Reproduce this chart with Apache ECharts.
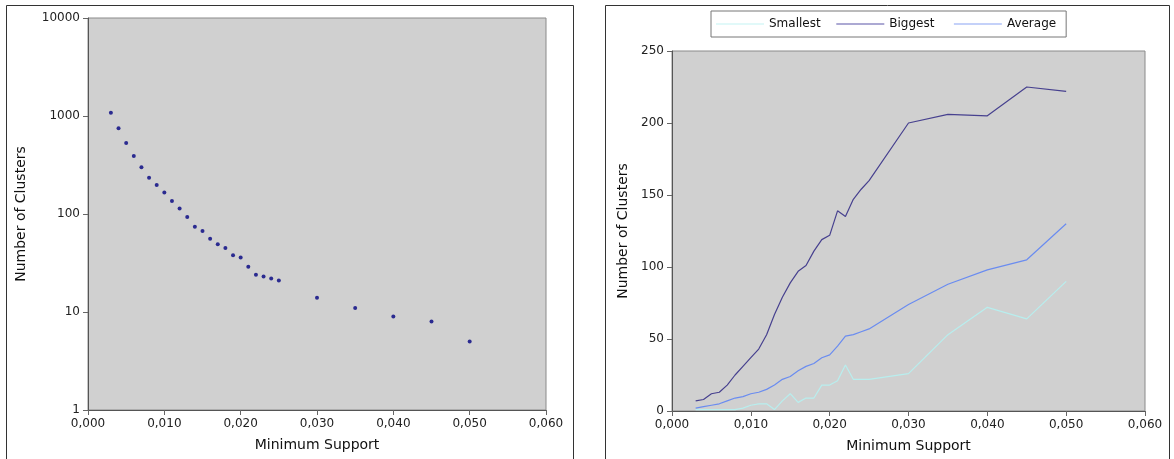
<!DOCTYPE html>
<html>
<head>
<meta charset="utf-8">
<script src="https://cdn.jsdelivr.net/npm/echarts@6/dist/echarts.min.js"></script>
<style>
  html, body { margin: 0; padding: 0; background: #ffffff; }
  #chart { width: 1174px; height: 459px; }
</style>
</head>
<body>
<div id="chart"></div>
<script>
// Minimum support thresholds (shared x values of both panels)
const support = [0.003, 0.004, 0.005, 0.006, 0.007, 0.008, 0.009, 0.010, 0.011, 0.012,
                 0.013, 0.014, 0.015, 0.016, 0.017, 0.018, 0.019, 0.020, 0.021, 0.022,
                 0.023, 0.024, 0.025, 0.030, 0.035, 0.040, 0.045, 0.050];

// Left panel: number of clusters found at each threshold (log scale)
const clusterCount = [1080, 750, 530, 390, 300, 235, 198, 166, 136, 114,
                      93, 74, 67, 56, 49, 45, 38, 36, 29, 24,
                      23, 22, 21, 14, 11, 9, 8, 5];

// Right panel: cluster sizes
const smallest = [1, 1, 1, 1, 1, 1, 2, 4, 5, 5,
                  1, 7, 12, 6, 9, 9, 18, 18, 21, 32,
                  22, 22, 22, 26, 53, 72, 64, 90];
const biggest  = [7, 8, 12, 13, 18, 25, 31, 37, 43, 53,
                  67, 79, 89, 97, 101, 111, 119, 122, 139, 135,
                  147, 154, 160, 200, 206, 205, 225, 222];
const average  = [2, 3, 4, 5, 7, 9, 10, 12, 13, 15,
                  18, 22, 24, 28, 31, 33, 37, 39, 45, 52,
                  53, 55, 57, 74, 88, 98, 105, 130];

const seriesNames = ['Smallest', 'Biggest', 'Average'];
const xAxisTitle = 'Minimum Support';
const yAxisTitle = 'Number of Clusters';

const pairs = (ys) => support.map((x, i) => [x, ys[i]]);
const FONT = 'DejaVu Sans';
const labelStyle = { color: '#222', fontFamily: FONT, fontSize: 12 };
const nameStyle = { color: '#111', fontFamily: FONT, fontSize: 14 };

// trailing spaces after each legend label so the entries sit in even cells
const legendPad = { Smallest: '  ', Biggest: '   ', Average: '' };

function supportAxis(gridIndex) {
  return {
    type: 'value', gridIndex, min: 0, max: 0.06, interval: 0.01,
    name: xAxisTitle, nameLocation: 'middle', nameGap: 28, nameTextStyle: nameStyle,
    axisLine: { show: true, lineStyle: { color: '#555', width: 1 } },
    axisTick: { show: true, length: 5, lineStyle: { color: '#666' } },
    axisLabel: Object.assign({ margin: 8, formatter: v => v.toFixed(3).replace('.', ',') }, labelStyle),
    splitLine: { show: false }
  };
}

const chart = echarts.init(document.getElementById('chart'), null, { renderer: 'canvas' });

chart.setOption({
  animation: false,
  backgroundColor: '#ffffff',
  graphic: [
    { type: 'rect', shape: { x: 6.5, y: 5.5, width: 567, height: 480 },
      style: { fill: 'none', stroke: '#333', lineWidth: 1 }, silent: true },
    { type: 'rect', shape: { x: 605.5, y: 5.5, width: 564, height: 480 },
      style: { fill: 'none', stroke: '#333', lineWidth: 1 }, silent: true }
  ],
  legend: {
    data: seriesNames,
    formatter: name => name + legendPad[name],
    left: 711, top: 11,
    padding: [7, 10, 7, 5],
    itemGap: 8,
    itemWidth: 48, itemHeight: 1,
    icon: 'rect',
    borderColor: '#777', borderWidth: 1,
    backgroundColor: '#ffffff',
    textStyle: { color: '#111', fontFamily: FONT, fontSize: 12 }
  },
  grid: [
    { left: 88, top: 18, width: 458, height: 392, show: true,
      backgroundColor: '#d0d0d0', borderColor: '#8a8a8a', borderWidth: 1 },
    { left: 672, top: 51, width: 473, height: 360, show: true,
      backgroundColor: '#d0d0d0', borderColor: '#8a8a8a', borderWidth: 1 }
  ],
  xAxis: [supportAxis(0), supportAxis(1)],
  yAxis: [
    {
      type: 'log', logBase: 10, gridIndex: 0, min: 1, max: 10000,
      name: yAxisTitle, nameLocation: 'middle', nameGap: 60, nameRotate: 90, nameTextStyle: nameStyle,
      axisLine: { show: true, lineStyle: { color: '#555', width: 1 } },
      axisTick: { show: true, length: 5, lineStyle: { color: '#666' } },
      minorTick: { show: false },
      axisLabel: Object.assign({ margin: 8, formatter: v => String(Math.round(v)) }, labelStyle),
      splitLine: { show: false }
    },
    {
      type: 'value', gridIndex: 1, min: 0, max: 250, interval: 50,
      name: yAxisTitle, nameLocation: 'middle', nameGap: 42, nameRotate: 90, nameTextStyle: nameStyle,
      axisLine: { show: true, lineStyle: { color: '#555', width: 1 } },
      axisTick: { show: true, length: 5, lineStyle: { color: '#666' } },
      axisLabel: Object.assign({ margin: 8 }, labelStyle),
      splitLine: { show: false }
    }
  ],
  series: [
    {
      type: 'scatter', xAxisIndex: 0, yAxisIndex: 0,
      data: pairs(clusterCount),
      symbol: 'circle', symbolSize: 4,
      itemStyle: { color: '#000080' }
    },
    {
      name: 'Smallest', type: 'line', xAxisIndex: 1, yAxisIndex: 1,
      data: pairs(smallest), symbol: 'none',
      lineStyle: { color: '#b8eeee', width: 1.2 }, itemStyle: { color: '#c4f4f4' }
    },
    {
      name: 'Biggest', type: 'line', xAxisIndex: 1, yAxisIndex: 1,
      data: pairs(biggest), symbol: 'none',
      lineStyle: { color: '#47418f', width: 1.2 }, itemStyle: { color: '#5a55a8' }
    },
    {
      name: 'Average', type: 'line', xAxisIndex: 1, yAxisIndex: 1,
      data: pairs(average), symbol: 'none',
      lineStyle: { color: '#6a8cf0', width: 1.2 }, itemStyle: { color: '#8aa4f4' }
    }
  ]
});
</script>
</body>
</html>
